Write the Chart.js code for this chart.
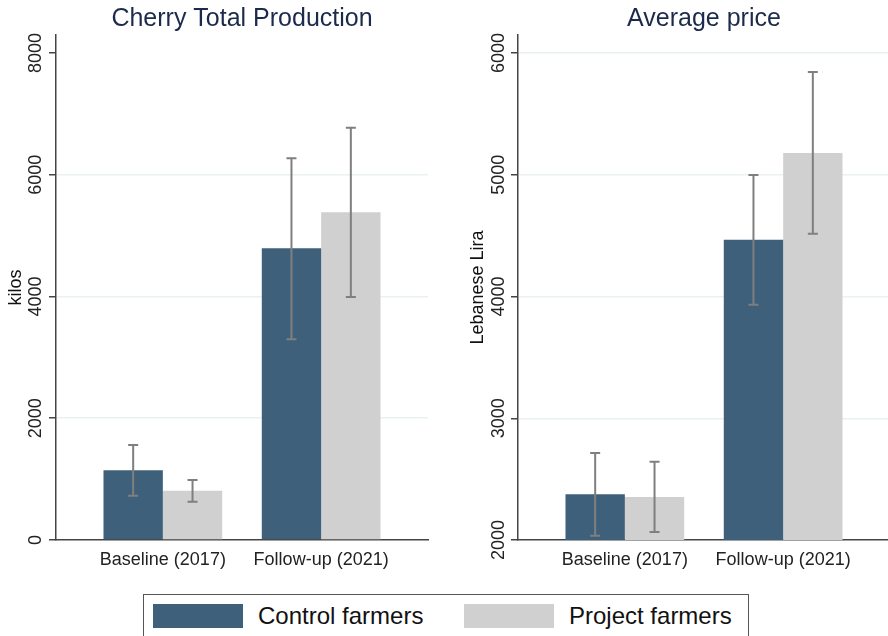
<!DOCTYPE html>
<html>
<head>
<meta charset="utf-8">
<script src="https://cdn.jsdelivr.net/npm/chart.js@4"></script>
<style>
  html, body { margin: 0; padding: 0; background: #fff; width: 888px; height: 636px; overflow: hidden; }
  #wrap { position: relative; width: 888px; height: 636px; overflow: hidden; }
  canvas { position: absolute; top: 0; }
  #c1 { left: 0; }
  #c2 { left: 444px; }
  #legend {
    position: absolute; left: 143px; top: 594px; width: 606px; height: 60px;
    border: 1.5px solid #555; box-sizing: border-box; background: #fff;
    font-family: "Liberation Sans", Arial, sans-serif; font-size: 24px; color: #111;
  }
  .item { position: absolute; top: 9px; height: 24px; display: flex; align-items: center; white-space: nowrap; }
  .sw { width: 90px; height: 24px; margin-right: 15px; }
</style>
</head>
<body>
<div id="wrap">
  <canvas id="c1" width="444" height="570"></canvas>
  <canvas id="c2" width="446" height="570"></canvas>
  <div id="legend">
    <div class="item" style="left:9px"><div class="sw" id="sw0"></div><span id="lb0"></span></div>
    <div class="item" style="left:320px"><div class="sw" id="sw1"></div><span id="lb1"></span></div>
  </div>
</div>
<script>
// Survey rounds and farmer groups
const categories = ['Baseline (2017)', 'Follow-up (2021)'];
const groups = ['Control farmers', 'Project farmers'];
const groupColors = ['#3e607a', '#d0d0d0'];

// Cherry total production (kilos): means and confidence bounds per round
const prodControl = [1145, 4791];
const prodControlLow = [728, 3297];
const prodControlHigh = [1560, 6270];
const prodProject = [810, 5383];
const prodProjectLow = [629, 3992];
const prodProjectHigh = [986, 6772];
const prodTicks = [0, 2000, 4000, 6000, 8000];

// Average price (Lebanese Lira): means and confidence bounds per round
const priceControl = [2375, 4467];
const priceControlLow = [2035, 3933];
const priceControlHigh = [2715, 4998];
const priceProject = [2353, 5179];
const priceProjectLow = [2066, 4516];
const priceProjectHigh = [2643, 5844];
const priceTicks = [2000, 3000, 4000, 5000, 6000];

const FONT = '"Liberation Sans", Arial, sans-serif';
const AXIS = '#444';
const GRID = '#e9f1f3';

// Whiskers drawn from each dataset's low/high arrays through the y scale
const errorBars = {
  id: 'errorBars',
  afterDatasetsDraw(chart) {
    const ctx = chart.ctx;
    const y = chart.scales.y;
    ctx.save();
    ctx.strokeStyle = '#7f7f7f';
    ctx.lineWidth = 2;
    chart.data.datasets.forEach((ds, di) => {
      const meta = chart.getDatasetMeta(di);
      meta.data.forEach((bar, i) => {
        const yl = y.getPixelForValue(ds.low[i]);
        const yh = y.getPixelForValue(ds.high[i]);
        const cap = 5;
        ctx.beginPath();
        ctx.moveTo(bar.x, yl); ctx.lineTo(bar.x, yh);
        ctx.moveTo(bar.x - cap, yl); ctx.lineTo(bar.x + cap, yl);
        ctx.moveTo(bar.x - cap, yh); ctx.lineTo(bar.x + cap, yh);
        ctx.stroke();
      });
    });
    ctx.restore();
  }
};

function points(vals) {
  return vals.map((v, i) => ({ x: i + 1, y: v }));
}

function makeChart(id, cfg) {
  return new Chart(document.getElementById(id), {
    type: 'bar',
    data: {
      datasets: [
        { label: groups[0], data: points(cfg.control), low: cfg.controlLow, high: cfg.controlHigh,
          backgroundColor: groupColors[0], borderWidth: 0 },
        { label: groups[1], data: points(cfg.project), low: cfg.projectLow, high: cfg.projectHigh,
          backgroundColor: groupColors[1], borderWidth: 0 }
      ]
    },
    options: {
      responsive: false,
      animation: false,
      devicePixelRatio: 1,
      layout: { padding: { left: 0, right: cfg.padRight, top: 0, bottom: 0 } },
      datasets: { bar: { categoryPercentage: 0.75, barPercentage: 1.0 } },
      plugins: {
        legend: { display: false },
        tooltip: { enabled: false },
        title: {
          display: true, fullSize: false, text: cfg.title, color: '#1c2a4c',
          font: { family: FONT, size: 25, weight: 'normal' },
          padding: { top: 4, bottom: 1 }
        }
      },
      scales: {
        x: {
          type: 'linear', min: 0.325, max: 2.675, offset: false,
          afterBuildTicks: (s) => { s.ticks = categories.map((c, i) => ({ value: i + 1 })); },
          afterFit: (s) => { s.height = 30; },
          ticks: {
            callback: (v) => categories[v - 1] || '',
            font: { family: FONT, size: 18 }, color: '#222', padding: 1, maxRotation: 0
          },
          grid: { display: false },
          border: { display: true, color: AXIS, width: 1.5 }
        },
        y: {
          min: cfg.min, max: cfg.max,
          afterBuildTicks: (s) => { s.ticks = cfg.ticks.map(v => ({ value: v })); },
          afterFit: (s) => { s.width = cfg.axisWidth; },
          ticks: {
            callback: (v) => String(v),
            font: { family: FONT, size: 18 }, color: '#222',
            minRotation: 90, maxRotation: 90, crossAlign: 'center', padding: cfg.tickPad
          },
          grid: {
            color: (c) => (c.tick && cfg.hideGrid.includes(c.tick.value)) ? 'rgba(0,0,0,0)' : GRID,
            lineWidth: 1.5, tickLength: 7, tickColor: AXIS, tickWidth: 1.5
          },
          border: { display: true, color: AXIS, width: 1.5 },
          title: {
            display: true, text: cfg.yTitle, color: '#111',
            font: { family: FONT, size: 18 }, padding: { top: cfg.titlePad, bottom: 0 }
          }
        }
      }
    },
    plugins: [errorBars]
  });
}

makeChart('c1', {
  title: 'Cherry Total Production', yTitle: 'kilos',
  control: prodControl, controlLow: prodControlLow, controlHigh: prodControlHigh,
  project: prodProject, projectLow: prodProjectLow, projectHigh: prodProjectHigh,
  ticks: prodTicks, min: 0, max: 8295, hideGrid: [0, 8000],
  axisWidth: 56, padRight: 16, tickPad: -7, titlePad: 5
});

makeChart('c2', {
  title: 'Average price', yTitle: 'Lebanese Lira',
  control: priceControl, controlLow: priceControlLow, controlHigh: priceControlHigh,
  project: priceProject, projectLow: priceProjectLow, projectHigh: priceProjectHigh,
  ticks: priceTicks, min: 2000, max: 6148, hideGrid: [2000],
  axisWidth: 74, padRight: 0, tickPad: -8, titlePad: 23
});

// Legend entries
groups.forEach((g, i) => {
  document.getElementById('sw' + i).style.background = groupColors[i];
  document.getElementById('lb' + i).textContent = g;
});
</script>
</body>
</html>
